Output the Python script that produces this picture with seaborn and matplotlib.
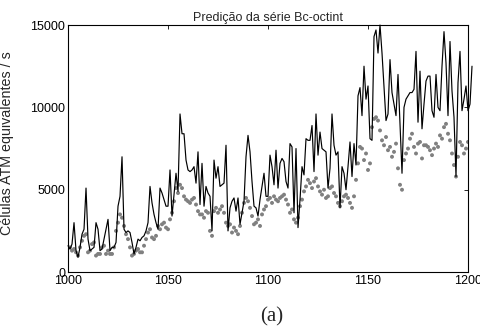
import numpy as np
import pandas as pd
import seaborn as sns
import matplotlib.pyplot as plt

# sample index (1000..1200) plus two samples the original draws past the right edge
x_real = list(range(1000, 1203))
x_pred = list(range(1000, 1201))

# measured series (black line)
real = [
    1600, 1400, 1700, 3000, 1300, 900, 1500, 2300, 2600, 5100,
    2000, 1300, 1400, 1500, 3000, 2600, 1300, 1400, 2000, 2600,
    3200, 1300, 1500, 1500, 1800, 4000, 4600, 7000, 2600, 2400,
    2500, 2400, 1800, 1100, 1500, 2000, 1900, 2100, 2200, 2500,
    3000, 5200, 4200, 3500, 3000, 2600, 5100, 4800, 4400, 4000,
    4000, 6200, 3400, 4700, 6000, 4900, 9600, 8400, 8400, 6800,
    6200, 6100, 6200, 6400, 5400, 7300, 4100, 6600, 4000, 5200,
    4800, 4600, 2500, 6800, 5700, 6400, 5200, 5300, 5400, 7700,
    2500, 3900, 4300, 4500, 3700, 4500, 2900, 3600, 4300, 7000,
    8300, 7300, 5500, 4000, 3900, 3400, 4400, 5200, 6000, 4600,
    4600, 7100, 6400, 5300, 7400, 5100, 6600, 6900, 6700, 5500,
    5100, 7800, 7600, 3600, 7500, 2700, 4400, 6400, 5900, 8100,
    8000, 8000, 8900, 6100, 9600, 7100, 8500, 7500, 7400, 7300,
    5100, 6300, 9600, 7700, 7100, 7300, 3900, 6400, 6000, 5000,
    6400, 7900, 5800, 7800, 6500, 10700, 11200, 9500, 12500, 10500,
    11300, 8100, 8000, 14300, 14700, 13300, 15000, 13300, 11200, 9200,
    9600, 12900, 10900, 10200, 9500, 12000, 9000, 6000, 10000, 10500,
    10700, 10900, 10900, 11100, 13400, 9100, 12200, 8700, 10200, 11600,
    11900, 11900, 9800, 9400, 12000, 10000, 9800, 12500, 14600, 12700,
    9500, 14000, 11000, 9400, 5800, 11500, 13400, 9800, 10500, 11300,
    9800, 10200, 12500,
]

# predicted series (grey dots)
pred = [
    1500, 1500, 1300, 1400, 1200, 1000, 1500, 1900, 2200, 2300,
    1200, 1300, 1700, 1800, 1000, 1100, 1100, 1500, 1600, 1100,
    1300, 1100, 1100, 1500, 2500, 3000, 3500, 3300, 2800, 2300,
    2000, 1500, 1000, 1100, 1300, 1400, 1200, 1200, 1600, 2000,
    2400, 2600, 2100, 2000, 2200, 2800, 2600, 2900, 3000, 2700,
    2600, 3200, 3600, 4300, 5100, 4800, 5300, 5100, 4600, 4400,
    4300, 4200, 4400, 4500, 4100, 3700, 3500, 3500, 3300, 3700,
    3600, 2500, 2200, 3700, 3900, 3600, 3800, 4000, 3600, 3000,
    2800, 2900, 2400, 2700, 2500, 2300, 2800, 3600, 4200, 4500,
    4300, 3900, 3400, 2900, 3000, 3200, 2800, 3500, 3800, 4000,
    4400, 4500, 4200, 4600, 4400, 4300, 4500, 4600, 4700, 4400,
    4100, 3600, 3800, 3200, 3000, 3300, 4000, 4400, 4900, 5200,
    5600, 5400, 5100, 5500, 5700, 5200, 4900, 4700, 5000, 4500,
    4600, 5100, 5200, 4800, 4600, 4200, 4000, 4300, 4600, 4700,
    4500, 4200, 3900, 4600, 5600, 6600, 7600, 7500, 6800, 7200,
    6200, 6600, 8800, 9300, 9400, 9200, 8600, 8000, 7700, 8200,
    7400, 7600, 7000, 7300, 7800, 6300, 5300, 5000, 6800, 7200,
    7500, 8100, 8400, 7600, 7200, 7800, 7900, 6900, 7700, 7700,
    7600, 7400, 7100, 7500, 7800, 7600, 8300, 8100, 8800, 9000,
    8400, 8000, 7200, 6500, 5800, 7000, 7900, 7700, 7200, 7500,
    7900,
]

df_real = pd.DataFrame({"n": x_real, "v": real})
df_pred = pd.DataFrame({"n": x_pred, "v": pred})

sns.set_style("white")
plt.rcParams['font.family'] = ['Liberation Sans', 'DejaVu Sans']
plt.rcParams['xtick.direction'] = 'in'
plt.rcParams['ytick.direction'] = 'in'

fig = plt.figure(figsize=(4.8, 3.27), dpi=100)
ax = fig.add_axes([0.1417, 0.168, 0.8333, 0.7554])

sns.lineplot(data=df_real, x="n", y="v", color="black", linewidth=0.85,
             ax=ax, clip_on=False)
sns.scatterplot(data=df_pred, x="n", y="v", color="#808080", s=8,
                edgecolor="none", ax=ax, zorder=1)

ax.set_xlim(1000, 1200)
ax.set_ylim(0, 15000)
ax.set_xticks([1000, 1050, 1100, 1150, 1200])
ax.set_yticks([0, 5000, 10000, 15000])
ax.tick_params(labelsize=9, length=3, width=0.6, top=True, right=True,
               colors="black", pad=2)
for s in ax.spines.values():
    s.set_color("black")
    s.set_linewidth(0.8)

ax.set_xlabel("")
ax.set_ylabel("Células ATM equivalentes / s", fontsize=10.3, labelpad=4)
ax.yaxis.set_label_coords(-0.135, 0.52)
ax.set_title("Predição da série Bc-octint", fontsize=9, pad=3)

fig.text(0.565, 0.03, "(a)", fontsize=15, family="Liberation Serif",
         ha="center", va="center")

plt.savefig("out.png", dpi=100)
